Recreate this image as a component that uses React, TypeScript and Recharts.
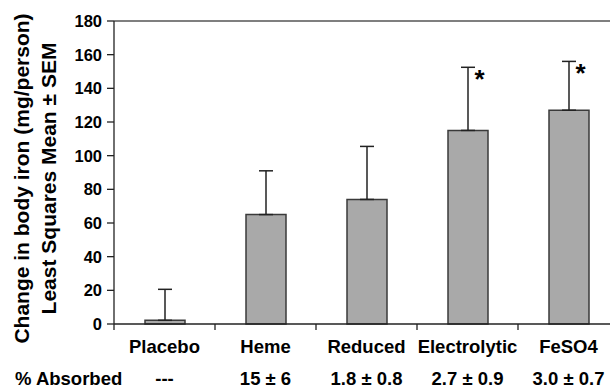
import React from 'react';
import { ComposedChart, Bar, XAxis, YAxis, ErrorBar, Line, ReferenceLine, Label } from 'recharts';

const categories = ['Placebo', 'Heme', 'Reduced', 'Electrolytic', 'FeSO4'];
const means = [2.2, 65, 74, 115, 127];
const sems = [18.4, 26, 31.5, 37.5, 29];
const absorbed = ['---', '15 ± 6', '1.8 ± 0.8', '2.7 ± 0.9', '3.0 ± 0.7'];
const significant = [false, false, false, true, true];
const yTicks = [0, 20, 40, 60, 80, 100, 120, 140, 160, 180];

const FONT = '"Liberation Sans", Arial, Helvetica, sans-serif';
const TEXT = '#000';

const data = categories.map((name, i) => ({
  name,
  mean: means[i],
  err: [0, sems[i]],
  top: means[i] + sems[i],
  sig: significant[i],
  absorbed: absorbed[i],
}));

const XTick = (props: any) => {
  const { x, y, payload, index, width, visibleTicksCount } = props;
  const bw = width && visibleTicksCount ? width / visibleTicksCount : 0;
  const d = data[index];
  return (
    <g>
      <line x1={x - bw / 2} x2={x - bw / 2} y1={y} y2={y + 6} stroke="#222" strokeWidth={1.3} />
      {index === visibleTicksCount - 1 && (
        <line x1={x + bw / 2} x2={x + bw / 2} y1={y} y2={y + 6} stroke="#222" strokeWidth={1.3} />
      )}
      <text x={x} y={y + 28.5} textAnchor="middle" fontFamily={FONT} fontWeight="bold" fontSize={18.5} fill={TEXT}>
        {payload.value}
      </text>
      <text x={x} y={y + 61} textAnchor="middle" fontFamily={FONT} fontWeight="bold" fontSize={18.5} fill={TEXT}>
        {d ? d.absorbed : ''}
      </text>
    </g>
  );
};

const Star = (props: any) => {
  const { cx, cy, payload, index } = props;
  if (!payload || !payload.sig) return <g key={`s${index}`} />;
  return (
    <text key={`s${index}`} x={cx + 12} y={cy + 21} textAnchor="middle" fontFamily={FONT} fontWeight="bold" fontSize={26} fill={TEXT}>
      *
    </text>
  );
};

const YLabel = (props: any) => {
  const vb = props.viewBox || { x: 0, y: 0, width: 0, height: 0 };
  const cy = vb.y + vb.height / 2 + 6;
  const l1 = 29;
  const l2 = 56;
  return (
    <g>
      <text x={l1} y={cy} transform={`rotate(-90 ${l1} ${cy})`} textAnchor="middle" fontFamily={FONT} fontWeight="bold" fontSize={21} fill={TEXT}>
        Change in body iron (mg/person)
      </text>
      <text x={l2} y={cy} transform={`rotate(-90 ${l2} ${cy})`} textAnchor="middle" fontFamily={FONT} fontWeight="bold" fontSize={21} fill={TEXT}>
        Least Squares Mean ± SEM
      </text>
    </g>
  );
};

const XLabel = (props: any) => {
  const vb = props.viewBox || { x: 0, y: 0 };
  return (
    <text x={vb.x - 99} y={vb.y + 61} textAnchor="start" fontFamily={FONT} fontWeight="bold" fontSize={18.5} fill={TEXT}>
      % Absorbed
    </text>
  );
};

export default function App() {
  return (
    <div style={{ position: 'absolute', left: 0, top: 0, width: 610, height: 389, overflow: 'hidden', background: '#fff' }}>
      <ComposedChart width={630} height={389} data={data} margin={{ top: 21, right: 11, bottom: 0, left: 0 }}>
        <ReferenceLine y={180} stroke="#555" strokeWidth={1.5} />
        <XAxis
          dataKey="name"
          height={65}
          tickLine={false}
          tickSize={0}
          tickMargin={0}
          axisLine={{ stroke: '#222', strokeWidth: 1.3 }}
          tick={<XTick />}
          interval={0}
        >
          <Label content={<XLabel />} />
        </XAxis>
        <YAxis
          width={114}
          domain={[0, 180]}
          ticks={yTicks}
          interval={0}
          tickSize={7}
          tickMargin={5}
          axisLine={{ stroke: '#222', strokeWidth: 1.3 }}
          tickLine={{ stroke: '#222', strokeWidth: 1.3 }}
          tick={{ fontFamily: FONT, fontWeight: 'bold', fontSize: 16.5, fill: TEXT }}
        >
          <Label content={<YLabel />} />
        </YAxis>
        <Bar dataKey="mean" fill="#a9a9a9" stroke="#3a3a3a" strokeWidth={1.5} barSize={40} isAnimationActive={false}>
          <ErrorBar dataKey="err" width={7} stroke="#222" strokeWidth={1.5} direction="y" isAnimationActive={false} />
        </Bar>
        <Line dataKey="top" stroke="none" dot={Star} activeDot={false} isAnimationActive={false} legendType="none" />
      </ComposedChart>
    </div>
  );
}
